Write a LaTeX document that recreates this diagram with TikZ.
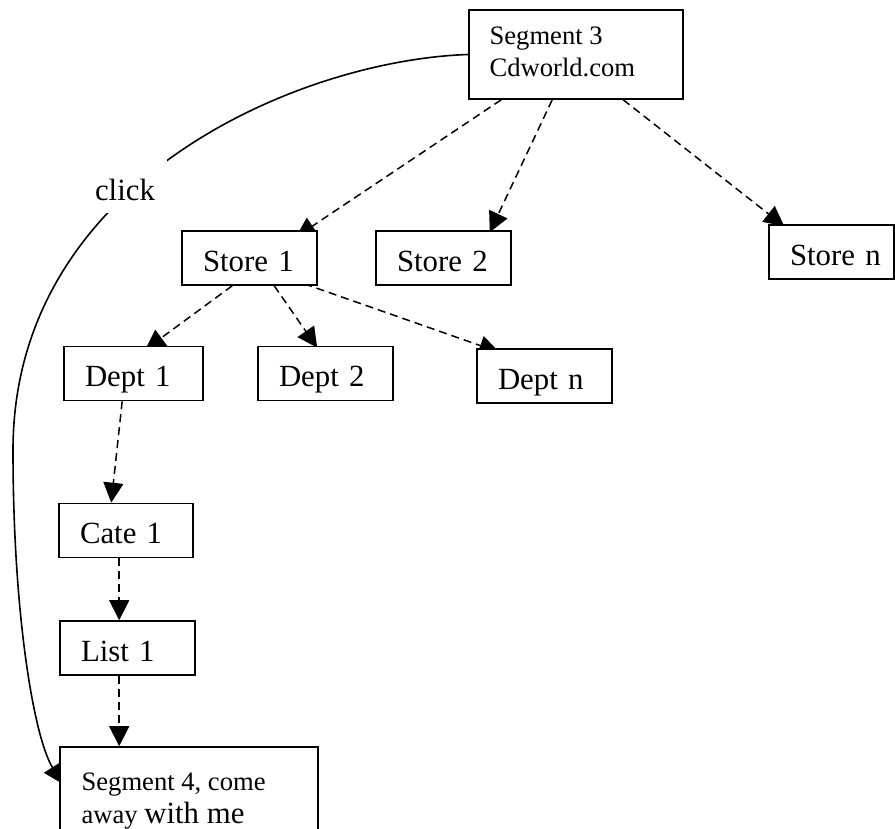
\documentclass[tikz,border=0pt]{standalone}
\usepackage{fontspec}
\setmainfont{Liberation Serif}
\usetikzlibrary{arrows.meta,calc,backgrounds}
\newcommand\myBig{\fontsize{15.4}{18}\selectfont}
\newcommand\mySmall{\fontsize{13.3}{16}\selectfont}
\begin{document}
\begin{tikzpicture}[x=0.5pt,y=-0.5pt,
  box/.style={draw,line width=0.8pt,fill=white,inner xsep=10.5pt,inner ysep=0pt,
    minimum height=27pt,text height=15pt,text depth=2pt,align=left,text width=#1,font=\myBig},
  plainbox/.style={draw,line width=0.8pt,fill=white,inner sep=0pt},
  conn/.style={line width=0.75pt,dash pattern=on 4pt off 2.5pt,-{Triangle[length=10pt,width=10pt]}},
  lbl/.style={anchor=base west,inner sep=0pt}]
\useasboundingbox (0,0) rectangle (895,829);
\clip (0,0) rectangle (895,829);
% boxes
\node[plainbox,minimum width=107pt,minimum height=44.5pt] (seg3) at (576,54.5) {};
\node[lbl,font=\mySmall] (seg3a) at ($(seg3.north west)+(21,35)$) {Segment 3};
\node[lbl,font=\mySmall] (seg3b) at ($(seg3.north west)+(21,67)$) {Cdworld.com};
\node[box=46.5pt] (store1) at (249.5,258) {\mbox{Store 1}};
\node[box=46.5pt] (store2) at (443.5,258) {\mbox{Store 2}};
\node[box=41.5pt] (storen) at (831.5,252) {\mbox{Store n}};
\node[box=48.5pt] (dept1) at (133.5,373.5) {\mbox{Dept 1}};
\node[box=46.5pt] (dept2) at (325.5,373.5) {\mbox{Dept 2}};
\node[box=46.5pt] (deptn) at (544.5,376) {\mbox{Dept n}};
\node[box=46pt] (cate1) at (126,530.5) {\mbox{Cate 1}};
\node[box=46.5pt] (list1) at (127.5,648) {\mbox{List 1}};
\node[plainbox,minimum width=129pt,minimum height=50pt] (seg4) at (189,797) {};
\node[lbl,font=\mySmall] (seg4a) at ($(seg4.north west)+(22,44)$) {Segment 4, come};
\node[lbl,font=\mySmall] (seg4b) at ($(seg4.north west)+(22,77)$) {away {\myBig with me}};
% click label (white box hides part of the curve)
\node[fill=white,inner sep=0pt,minimum width=42pt,minimum height=27pt,text height=15pt,text depth=1pt,font=\myBig] (click) at (125,186) {click};
% connectors
\begin{pgfonlayer}{background}
\draw[conn] ($(seg3.south west)+(33,0)$) -- ($(store1.north east)+(-22,7)$);
\draw[conn] ($(seg3.south west)+(84,0)$) -- ($(store2.north east)+(-22,2)$);
\draw[conn] ($(seg3.south west)+(155,0)$) -- ($(storen.north west)+(16,2)$);
\draw[conn] ($(store1.south west)+(51,0)$) -- ($(dept1.north west)+(82,4)$);
\draw[conn] ($(store1.south west)+(93,0)$) -- ($(dept2.north west)+(60,2)$);
\draw[conn] ($(store1.south west)+(123,-2)$) -- ($(deptn.north west)+(23,4)$);
\draw[conn] ($(dept1.south west)+(59,0)$) -- ($(cate1.north west)+(53,0)$);
\draw[conn] ($(cate1.south west)+(61,0)$) -- ($(list1.north west)+(60,0)$);
\draw[conn] ($(list1.south west)+(60,0)$) -- ($(seg4.north west)+(60,0)$);
\draw[line width=0.8pt,-{Triangle[length=10pt,width=10pt]}] (seg3.west)
  .. controls (300,60) and (13,180) .. (13,450)
  .. controls (13,620) and (35,740) .. ($(seg4.north west)+(4,38)$);
\end{pgfonlayer}
\end{tikzpicture}
\end{document}
